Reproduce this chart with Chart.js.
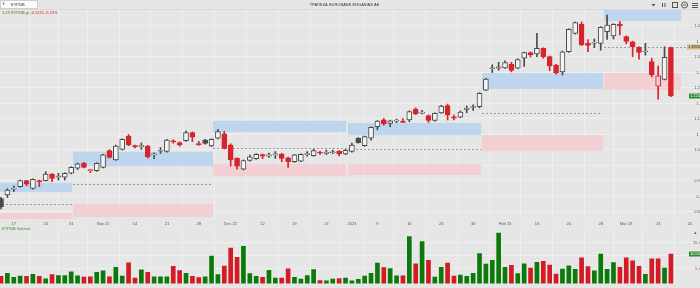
<!DOCTYPE html>
<html>
<head>
<meta charset="utf-8">
<script src="https://cdn.jsdelivr.net/npm/chart.js@4.4.1/dist/chart.umd.min.js"></script>
<style>
  html, body { margin:0; padding:0; background:#e6e6e6; }
  #wrap { position:relative; width:700px; height:288px; overflow:hidden; background:#e6e6e6; }
  #priceBox { position:absolute; left:0; top:0; width:700px; height:226px; }
  #volBox { position:absolute; left:0; top:226px; width:700px; height:62px; }
</style>
</head>
<body>
<div id="wrap">
  <div id="priceBox"><canvas id="price"></canvas></div>
  <div id="volBox"><canvas id="vol"></canvas></div>
</div>
<script>
// daily candles, Oct 13 2022 .. Mar 15 2023 (index = trading day)
const opens  = [.893,.905,.924,.932,.951,.926,.951,.951,.972,.963,.962,.975,.991,1.007,.983,.983,.994,1.048,1.018,1.052,
  1.095,1.063,1.061,1.063,1.034,1.046,1.045,1.078,1.074,1.080,1.106,1.071,1.082,1.063,1.088,1.102,1.066,1.023,.988,1.016,
  1.022,1.035,1.030,1.034,1.037,1.025,1.012,1.014,1.035,1.032,1.043,1.039,1.041,1.046,1.037,1.045,1.088,1.064,1.088,1.125,
  1.147,1.136,1.143,1.141,1.147,1.182,1.169,1.161,1.145,1.170,1.193,1.157,1.156,1.181,1.187,1.190,1.243,1.312,1.314,1.315,
  1.327,1.314,1.346,1.364,1.360,1.378,1.351,1.324,1.302,1.367,1.426,1.456,1.394,1.395,1.394,1.432,1.418,1.455,1.416,1.399,
  1.381,1.366,1.335,1.256,1.278,1.380];
const highs  = [.897,.925,.934,.953,.952,.957,.953,.980,.974,.975,.977,.996,1.008,1.010,.988,1.009,1.036,1.051,1.066,1.086,
  1.100,1.066,1.073,1.065,1.041,1.058,1.084,1.083,1.076,1.112,1.108,1.078,1.084,1.086,1.117,1.110,1.070,1.025,1.018,1.034,
  1.038,1.037,1.040,1.045,1.039,1.027,1.036,1.038,1.045,1.052,1.046,1.050,1.050,1.048,1.052,1.072,1.090,1.095,1.125,1.145,
  1.152,1.146,1.150,1.151,1.176,1.186,1.178,1.163,1.170,1.194,1.198,1.163,1.176,1.192,1.196,1.235,1.281,1.325,1.333,1.338,
  1.333,1.344,1.366,1.366,1.426,1.380,1.353,1.326,1.369,1.441,1.463,1.463,1.406,1.408,1.448,1.485,1.457,1.464,1.418,1.401,
  1.383,1.394,1.346,1.321,1.383,1.382];
const lows   = [.860,.897,.916,.930,.934,.924,.932,.950,.948,.953,.953,.973,.987,.992,.977,.981,.992,1.024,1.016,1.050,
  1.064,1.057,1.052,1.024,1.022,1.039,1.043,1.072,1.062,1.078,1.077,1.065,1.069,1.061,1.086,1.053,.998,.988,.986,1.014,
  1.020,1.022,1.026,1.023,1.012,.994,1.010,1.012,1.030,1.030,1.036,1.035,1.038,1.031,1.035,1.043,1.072,1.062,1.082,1.115,
  1.130,1.125,1.138,1.138,1.141,1.164,1.166,1.139,1.143,1.168,1.147,1.147,1.154,1.170,1.178,1.186,1.241,1.300,1.307,1.313,
  1.302,1.312,1.320,1.350,1.351,1.346,1.306,1.295,1.292,1.365,1.424,1.387,1.367,1.380,1.372,1.407,1.408,1.421,1.392,1.351,
  1.343,1.356,1.286,1.214,1.276,1.222];
const closes = [.866,.921,.927,.951,.940,.955,.947,.972,.958,.965,.975,.994,1.005,.994,.987,1.007,1.034,1.026,1.063,1.084,
  1.066,1.061,1.064,1.028,1.036,1.049,1.082,1.076,1.066,1.106,1.091,1.067,1.071,1.084,1.109,1.055,1.018,.998,1.016,1.028,
  1.036,1.030,1.034,1.036,1.023,1.012,1.034,1.036,1.038,1.048,1.040,1.042,1.043,1.037,1.049,1.066,1.074,1.093,1.123,1.143,
  1.134,1.144,1.146,1.139,1.174,1.166,1.172,1.145,1.168,1.192,1.163,1.153,1.172,1.185,1.190,1.233,1.279,1.315,1.318,1.332,
  1.307,1.342,1.364,1.357,1.378,1.351,1.321,1.299,1.367,1.439,1.461,1.389,1.387,1.397,1.446,1.453,1.455,1.450,1.400,1.383,
  1.365,1.368,1.292,1.289,1.349,1.2245];
// volume in millions
const volumes = [2.0,3.1,1.6,2.1,2.0,2.7,2.0,1.0,2.6,2.3,2.3,3.7,2.2,1.7,1.8,3.5,4.1,1.8,5.4,2.1,
  7.2,1.3,4.5,3.5,1.8,1.8,1.8,5.8,4.2,3.1,2.0,1.5,1.8,9.8,2.6,5.9,12.8,9.3,13.5,3.0,
  2.0,1.6,4.3,1.3,1.3,4.9,1.6,0.9,2.3,4.6,0.3,0.2,0.9,1.1,1.3,0.2,0.8,2.1,3.1,7.1,
  5.3,5.0,2.2,2.2,17.3,6.8,15.3,8.1,1.7,5.4,7.1,2.1,2.5,2.0,3.1,10.7,6.7,8.1,18.6,5.4,
  6.2,3.0,6.8,5.1,7.4,7.7,6.3,2.8,4.8,6.0,4.7,9.1,5.7,4.1,10.5,4.7,7.3,5.4,9.1,7.9,
  5.8,2.7,8.7,8.7,5.1,10.5];

const tickIdx  = [2,7,11,16,21,26,31,36,41,46,51,55,59,64,69,74,79,84,89,94,98,103,108];
const tickText = ['17','24','31','Nov 22','14','21','28','Dec 22','12','19','27','2023','9','16','23','30','Feb 23','13','20','28','Mar 23','13','20'];
const priceTicks = [0.85,0.9,0.95,1,1.05,1.1,1.15,1.2,1.25,1.3,1.35,1.4,1.45];
const volTicks = [5,10,15];

// monthly zones (index range, prices)
const zoneFrom   = [-0.5, 11.3, 33.3, 54.4, 75.45, 94.45];
const zoneTo     = [11.15, 33.15, 54.15, 75.3, 94.3, 106.6];
const midTo      = [11.15, 33.15, 54.15, 75.3, 94.3, 107.6];
const blueTop    = [0.944, 1.044, 1.144, 1.137, 1.298, 1.505];
const blueBottom = [0.915, 0.998, 1.108, 1.098, 1.247, 1.466];
const pinkTop    = [0.847, 0.876, 1.005, 1.005, 1.098, 1.298];
const pinkBottom = [0.827, 0.834, 0.966, 0.969, 1.047, 1.244];
const midLine    = [0.876, 0.940, 1.056, 1.054, 1.169, 1.382];

const FONT = '"Liberation Sans", Arial, sans-serif';
const GRID = '#efefef';
const RED = '#d8232c', DARK = '#4a4a4a';
const VGREEN = '#0b7a0b', VRED = '#d41a22';
const X_MIN = -0.157, X_MAX = 109.56;
const Y_MIN = 0.8274, Y_MAX = 1.5016;
const V_MIN = -0.825, V_MAX = 19.64;

const candleColor = closes.map((c,i)=> i>0 && c<closes[i-1] ? RED : DARK);
const bodyFill = closes.map((c,i)=> c>=opens[i] ? (candleColor[i]===RED ? '#f4cfd1' : '#f3f3f3') : candleColor[i]);
const volColor = closes.map((c,i)=> c >= (i>0 ? closes[i-1] : opens[i]) ? VGREEN : VRED);

function xAxis(showLabels){
  return {
    type:'linear', min:X_MIN, max:X_MAX, offset:false,
    grid:{color:GRID, drawTicks:false}, border:{display:false},
    afterBuildTicks: s => { s.ticks = tickIdx.map(v=>({value:v})); },
    ticks:{display:showLabels, autoSkip:false, maxRotation:0, padding:2,
      font:{size:4, family:FONT}, color:'#555',
      callback: v => tickText[tickIdx.indexOf(v)] ?? ''},
    afterFit: s => { s.height = showLabels ? 7 : 0; }
  };
}

const zonePlugin = {
  id:'zones',
  beforeDatasetsDraw(chart){
    const {ctx, chartArea:a} = chart, x = chart.scales.x, y = chart.scales.y;
    ctx.save();
    ctx.beginPath(); ctx.rect(a.left, a.top, a.right-a.left, a.bottom-a.top); ctx.clip();
    zoneFrom.forEach((f,k)=>{
      const x0 = Math.round(x.getPixelForValue(f)), x1 = Math.round(x.getPixelForValue(zoneTo[k]));
      ctx.fillStyle = 'rgba(170,205,240,0.68)';
      const b0 = y.getPixelForValue(blueTop[k]), b1 = y.getPixelForValue(blueBottom[k]);
      ctx.fillRect(x0, b0, x1-x0, b1-b0);
      ctx.fillStyle = 'rgba(250,188,194,0.55)';
      const p0 = y.getPixelForValue(pinkTop[k]), p1 = y.getPixelForValue(pinkBottom[k]);
      ctx.fillRect(x0, p0, x1-x0, p1-p0);
      const ym = Math.round(y.getPixelForValue(midLine[k])) + 0.5;
      ctx.strokeStyle = '#9c9c9c'; ctx.lineWidth = 1; ctx.setLineDash([2,2]);
      ctx.beginPath(); ctx.moveTo(x0, ym); ctx.lineTo(x.getPixelForValue(midTo[k]), ym); ctx.stroke();
    });
    ctx.restore();
  }
};

function tag(ctx, yPix, text, bg, fg, x0){
  ctx.fillStyle = bg; ctx.fillRect(x0, Math.round(yPix)-2.5, 700-x0, 5);
  ctx.fillStyle = fg; ctx.font = '4px ' + FONT; ctx.textAlign = 'left'; ctx.textBaseline = 'middle';
  ctx.fillText(text, x0+1, yPix);
}

const headerPlugin = {
  id:'header',
  afterDraw(chart){
    const ctx = chart.ctx, y = chart.scales.y;
    ctx.save();
    tag(ctx, y.getPixelForValue(midLine[5]), '1.3820', '#d4bd84', '#333', 687);
    tag(ctx, y.getPixelForValue(closes[closes.length-1]), '1.2245', '#2f8a2f', '#fff', 689);
    // toolbar
    ctx.strokeStyle = '#d8d8d8'; ctx.lineWidth = 1;
    ctx.beginPath(); ctx.moveTo(0, 9.5); ctx.lineTo(700, 9.5); ctx.stroke();
    ctx.fillStyle = '#fafafa'; ctx.fillRect(0, 0, 38, 9);
    ctx.strokeStyle = '#cfcfcf'; ctx.strokeRect(0.5, 0.5, 37, 8);
    ctx.textBaseline = 'middle'; ctx.textAlign = 'left';
    ctx.fillStyle = '#444'; ctx.font = '7px ' + FONT; ctx.fillText('‹', 2.5, 4.5);
    ctx.fillStyle = '#333'; ctx.font = '4px ' + FONT; ctx.fillText('ΕΥΡΩΒ', 11, 4.8);
    ctx.textAlign = 'center'; ctx.fillText('ΤΡΑΠΕΖΑ EUROBANK ERGASIAS AE', 344.5, 5);
    ctx.textAlign = 'left';
    const first = '1.23 ΕΥΡΩΒ.gr ';
    ctx.fillStyle = '#4a7d2a'; ctx.fillText(first, 2, 13);
    ctx.fillStyle = '#d0222b'; ctx.fillText('-0.1245 -9.19%', 2 + ctx.measureText(first).width, 13);
    // top-right icons
    ctx.fillStyle = '#555'; ctx.strokeStyle = '#555';
    ctx.beginPath(); ctx.moveTo(651.5, 4); ctx.lineTo(655.5, 4); ctx.lineTo(653.5, 6.5); ctx.closePath(); ctx.fill();
    ctx.fillRect(662, 3, 1, 4); ctx.fillRect(664.5, 3, 1, 4);
    ctx.strokeRect(672.5, 2.5, 5, 5);
    ctx.beginPath(); ctx.arc(684.5, 5, 3, 0, Math.PI*2); ctx.stroke();
    ctx.fillRect(683, 4.5, 3, 1);
    ctx.fillRect(692, 3, 6, 1); ctx.fillRect(692, 5, 6, 1); ctx.fillRect(692, 7, 6, 1);
    ctx.restore();
  }
};

new Chart(document.getElementById('price'), {
  type:'bar',
  data:{datasets:[
    {label:'body', data: opens.map((o,i)=>({x:i, y:[o, closes[i]]})),
      backgroundColor: bodyFill, borderColor: candleColor, borderWidth:1, borderSkipped:false,
      barThickness:5, minBarLength:1, grouped:false, order:0},
    {label:'wick', data: lows.map((l,i)=>({x:i, y:[l, highs[i]]})),
      backgroundColor: candleColor, borderWidth:0, barThickness:1, grouped:false, order:1}
  ]},
  options:{
    responsive:true, maintainAspectRatio:false, animation:false,
    layout:{padding:{top:10, left:0, right:0, bottom:0}},
    plugins:{legend:{display:false}, tooltip:{enabled:false}},
    scales:{
      x: xAxis(true),
      y:{position:'right', min:Y_MIN, max:Y_MAX,
        grid:{color:GRID, drawTicks:false}, border:{display:false},
        afterBuildTicks: s => { s.ticks = priceTicks.map(v=>({value:v})); },
        ticks:{mirror:true, padding:2, font:{size:4, family:FONT}, color:'#555',
          callback: v => String(+v.toFixed(2))},
        afterFit: s => { s.width = 0; }}
    }
  },
  plugins:[zonePlugin, headerPlugin]
});

const volPlugin = {
  id:'volLabels',
  afterDraw(chart){
    const ctx = chart.ctx, y = chart.scales.y;
    ctx.save();
    ctx.font = '4px ' + FONT; ctx.textBaseline = 'middle'; ctx.textAlign = 'left';
    ctx.fillStyle = '#3d8a2f'; ctx.fillText('ΕΥΡΩΒ Volume', 2, 3);
    tag(ctx, y.getPixelForValue(volumes[volumes.length-1]), '10.50m', '#2f8a2f', '#fff', 689);
    ctx.fillStyle = '#666'; ctx.font = '5px ' + FONT; ctx.textAlign = 'center';
    ctx.fillText('▴', 695, 6.5);
    ctx.restore();
  }
};

new Chart(document.getElementById('vol'), {
  type:'bar',
  data:{datasets:[
    {label:'Volume', data: volumes.map((v,i)=>({x:i, y:v})),
      backgroundColor: volColor, borderWidth:0, barThickness:4, base:V_MIN, grouped:false}
  ]},
  options:{
    responsive:true, maintainAspectRatio:false, animation:false,
    layout:{padding:0},
    plugins:{legend:{display:false}, tooltip:{enabled:false}},
    scales:{
      x: xAxis(false),
      y:{position:'right', min:V_MIN, max:V_MAX,
        grid:{color:GRID, drawTicks:false}, border:{display:false},
        afterBuildTicks: s => { s.ticks = volTicks.map(v=>({value:v})); },
        ticks:{mirror:true, padding:2, font:{size:4, family:FONT}, color:'#555',
          callback: v => v===10 ? '' : v + ' m'},
        afterFit: s => { s.width = 0; }}
    }
  },
  plugins:[volPlugin]
});
</script>
</body>
</html>
